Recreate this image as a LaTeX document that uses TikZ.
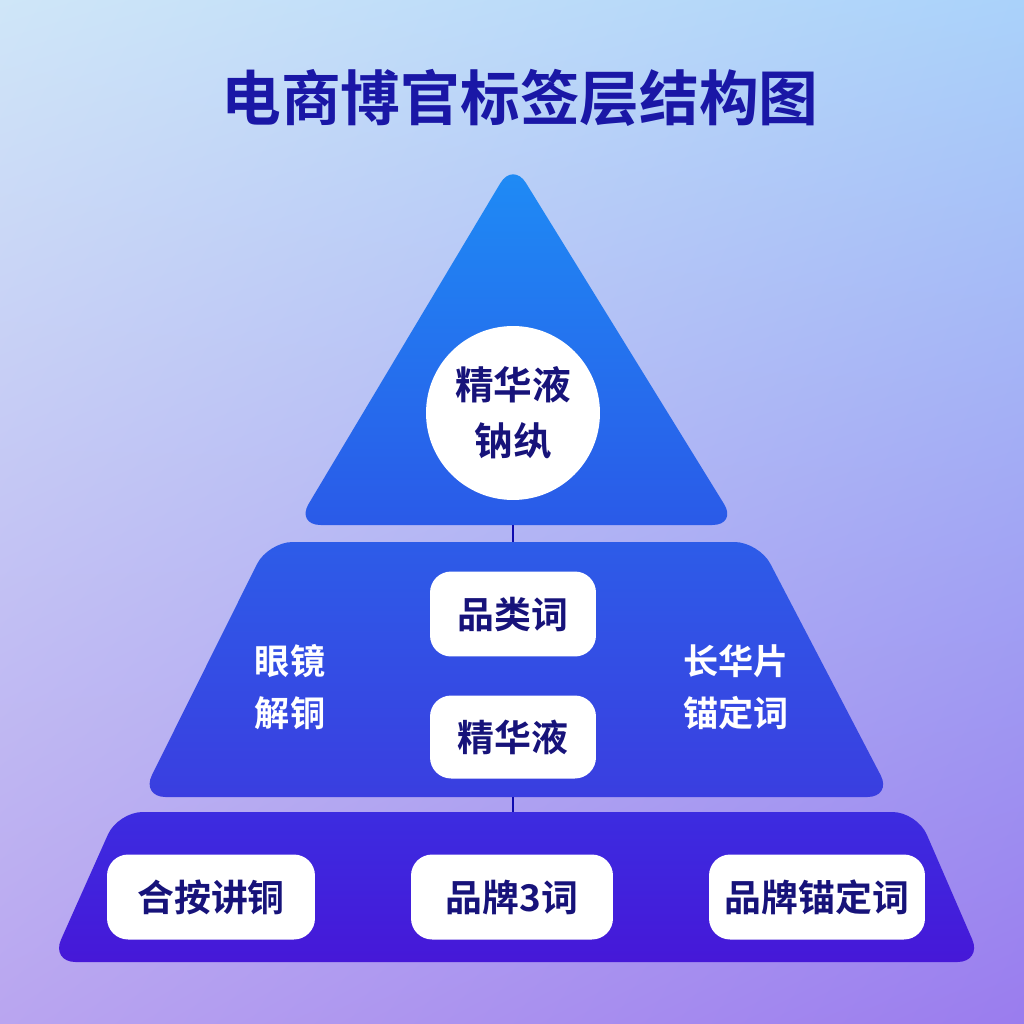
\documentclass[tikz,border=0pt]{standalone}
\usepackage{fontspec}
\newfontfamily\cjk{Noto Sans CJK SC Bold}
\usetikzlibrary{shapes.geometric,shadings}
\definecolor{navy}{HTML}{17137A}
\definecolor{titlec}{HTML}{1A17A6}
\definecolor{bgtl}{HTML}{CFE6F8}
\definecolor{bgbr}{HTML}{9A7CEE}
\begin{document}
\begin{tikzpicture}[x=0.02cm,y=-0.02cm,
  box/.style={fill=white,rounded corners=12pt,draw=none},
  btxt/.style={font=\cjk\fontsize{21}{26}\selectfont,text=navy,align=center},
  wtxt/.style={font=\cjk\fontsize{20}{30}\selectfont,text=white,align=center},
  conn/.style={draw=navy!60!blue,line width=1.2pt}]
\useasboundingbox (0,0) rectangle (1024,1024);
\shade[upper left=bgtl, upper right={rgb,255:red,170;green,210;blue,250}, lower left={rgb,255:red,185;green,165;blue,240}, lower right=bgbr] (0,0) rectangle (1024,1024);
\node[font=\cjk\fontsize{34}{40}\selectfont,text=titlec] (title) at (520,98) {电商博官标签层结构图};
% tiers
\shade[top color={rgb,255:red,30;green,140;blue,245}, bottom color={rgb,255:red,42;green,90;blue,232}, rounded corners=14pt]
  (513,162) -- (737,525) -- (296,525) -- cycle;
\shade[top color={rgb,255:red,45;green,92;blue,232}, bottom color={rgb,255:red,58;green,62;blue,224}, rounded corners=14pt]
  (268,542) -- (759,542) -- (892,797) -- (141,797) -- cycle;
\shade[top color={rgb,255:red,60;green,44;blue,224}, bottom color={rgb,255:red,70;green,24;blue,216}, rounded corners=14pt]
  (118,812) -- (917,812) -- (982,962) -- (51,962) -- cycle;
\coordinate (t1) at (513,525); \coordinate (m1) at (513,542);
\coordinate (m2) at (513,797); \coordinate (b1) at (513,812);
\draw[conn] (t1) -- (m1); \draw[conn] (m2) -- (b1);
% top
\node[circle,fill=white,minimum size=3.48cm,btxt,font=\cjk\fontsize{22}{32}\selectfont] (top) at (513,413) {精华液\\钠纨};
% middle
\node[box,minimum width=3.32cm,minimum height=1.7cm,btxt] (cat) at (513,614) {品类词};
\node[box,minimum width=3.32cm,minimum height=1.66cm,btxt] (ess) at (513,737) {精华液};
\node[wtxt] (left) at (290,687) {眼镜\\解铜};
\node[wtxt] (right) at (736,687) {长华片\\锚定词};
% bottom
\node[box,minimum width=4.16cm,minimum height=1.7cm,btxt] (b1n) at (211,897) {合按讲铜};
\node[box,minimum width=4.04cm,minimum height=1.7cm,btxt] (b2n) at (512,897) {品牌3词};
\node[box,minimum width=4.32cm,minimum height=1.7cm,btxt] (b3n) at (817,897) {品牌锚定词};
\end{tikzpicture}
\end{document}
